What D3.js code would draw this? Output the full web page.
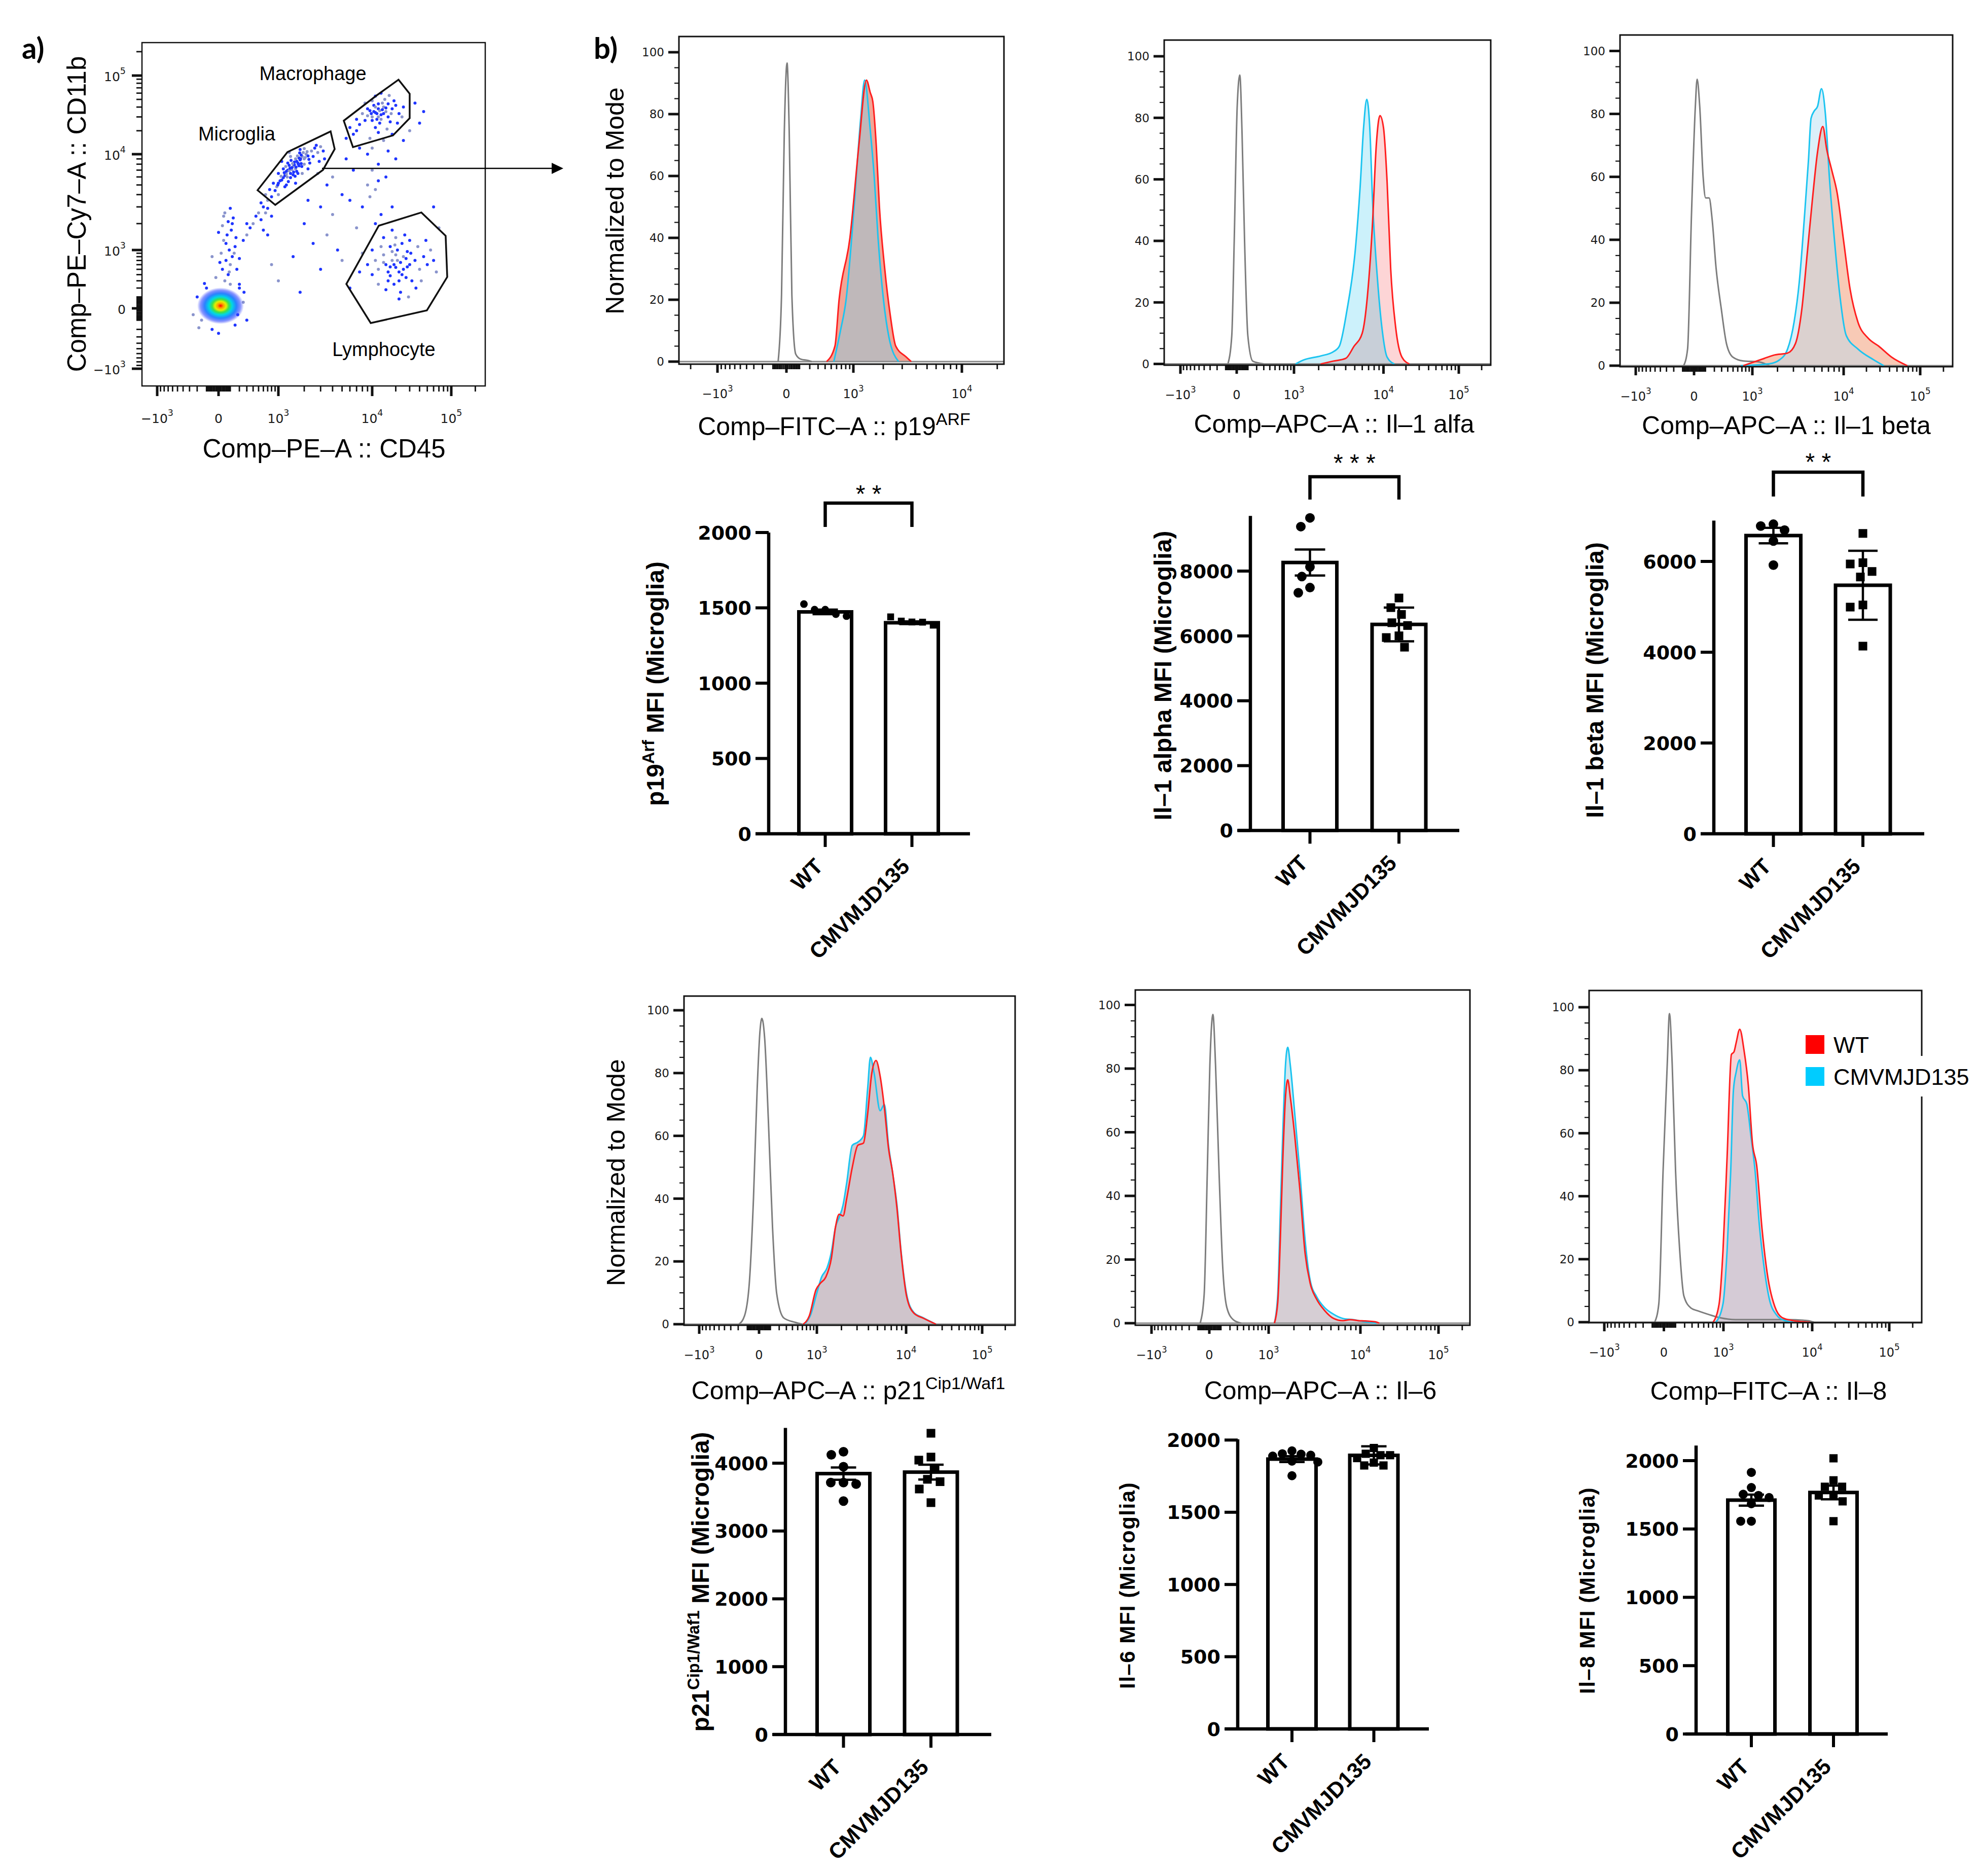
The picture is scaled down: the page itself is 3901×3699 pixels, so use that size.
<!DOCTYPE html>
<html>
<head>
<meta charset="utf-8">
<script src="https://cdn.jsdelivr.net/npm/d3@7/dist/d3.min.js"></script>
<style>
  html,body{margin:0;padding:0;background:#fff;}
  svg{display:block;}
</style>
</head>
<body>
<svg id="fig" width="3901" height="3699"></svg>
<script>
// ======================= DATA =======================
const groups = ["WT", "CMVMJD135"];
const flowTickValues = [-1000, 0, 1000, 10000, 100000];
const flowTickLabels = [["−10","3"], ["0",""], ["10","3"], ["10","4"], ["10","5"]];
const pctTickValues = [0, 20, 40, 60, 80, 100];
const legendLabels = ["WT", "CMVMJD135"];

// ---- panel a : events [CD45, CD11b] ----
const blobCenter = [15, 20];
const blobEvents = [[-150,-100],[150,-150],[-200,100],[250,50],[-100,200],[200,200],[-250,-50],[300,-100],[0,-250],[100,250],[-50,-200],[180,-50],[-180,-180],[260,150],[-120,260]];
const streakEvents = [[50,300],[80,400],[30,500],[100,600],[60,700],[120,800],[20,900],[90,1000],[150,1100],[40,1300],[70,1500],[110,1700],[30,1900],[80,2100],[130,2300],[50,2600],[100,2900],[60,1200],[140,900],[10,650],[170,500],[-20,350],[200,750],[0,1600],[90,450],[160,1400],[120,2000],[40,2400],[250,1300],[300,2000],[-50,800],[200,250]];
const microgliaEvents = [[1300,7000],[1500,7600],[1700,8200],[1400,6500],[1600,7200],[1800,8800],[1200,6200],[1900,9500],[1350,7800],[1650,6800],[2000,9000],[1100,5600],[1550,8400],[1450,7100],[1750,7700],[1250,6800],[2100,10000],[1000,5200],[1850,8100],[1600,9000],[1400,5900],[2200,9600],[950,4800],[1700,6500],[1300,8200],[2400,11000],[900,4400],[1150,7200],[2000,8000],[1500,6300],[800,3800],[700,3500],[600,3000],[750,4500],[1000,4000],[1200,4800],[2600,12000],[2800,10500],[2300,8200],[2500,9500],[3000,12500],[3200,11000],[1800,11500],[1400,9500],[1100,8500],[850,5200],[650,4000],[550,3300],[2700,13000],[2000,11800],[3300,9000],[1600,5200],[1900,6500],[2200,7200],[1000,6500],[1350,10500],[2900,8500],[700,2900],[500,2600],[1250,5000],[450,2400],[400,2000],[350,1800],[550,2200],[300,1500],[600,1700],[800,2400],[650,2600],
  [1450,7400],[1550,7900],[1350,6900],[1650,8500],[1750,9200],[1250,6400],[1850,9800],[1150,5900],[1950,10500],[1050,5500],[1620,7500],[1480,8100],[1380,7300],[1720,8000],[1280,6000],[1820,9000],[1180,6600],[2050,9300],[1520,6700],[1420,8700],[1680,9600],[1580,6100],[1320,5400],[2150,10800],[980,5000],[1880,7600],[1080,6100],[2250,8900],[1780,10400],[1230,7600]];
const macrophageEvents = [[11000,34000],[12000,38000],[10000,30000],[13000,32000],[9500,36000],[14000,40000],[11500,28000],[8500,27000],[15000,35000],[10500,42000],[12500,25000],[9000,31000],[16000,30000],[7500,24000],[13500,45000],[11000,22000],[18000,38000],[8000,33000],[20000,42000],[7000,20000],[14500,50000],[17000,26000],[6500,18000],[10000,48000],[22000,33000],[12000,19000],[9500,16000],[19000,48000],[6000,22000],[15500,21000],[25000,40000],[11000,55000],[8500,45000],[13000,60000],[21000,25000],[16500,56000],[7000,28000],[5500,16000],[24000,30000],[18000,18000],
  [11500,33000],[12500,36000],[10500,35000],[13500,37000],[12000,30000],[9800,33000],[14000,33000],[11000,40000],[15000,39000],[10000,27000],[13000,28000],[16000,44000],[9000,38000],[17500,33000],[12000,44000]];
const lymphocyteEvents = [[20000,540],[18000,700],[22000,450],[15000,600],[25000,800],[17000,380],[30000,600],[12000,500],[21000,1000],[27000,350],[14000,850],[35000,700],[19000,250],[11000,700],[24000,1200],[16000,300],[40000,500],[10000,400],[28000,950],[13000,1100],[45000,800],[9000,600],[20000,1400],[32000,300],[23000,150],[8000,900],[50000,600],[15000,180],[38000,1100],[26000,1500],[18000,1700],[12000,250],[60000,700],[7500,450],[42000,300],[30000,1300],[14000,1400],[55000,1000],[22000,80],[10000,1000],[65000,450],[17000,1100],[36000,200],[29000,100],[48000,1300],
  [19000,600],[21000,700],[17000,550],[23000,650],[20000,850],[16000,450],[25000,500],[18000,950],[22000,300],[27000,750],[14000,650],[31000,900],[24000,400],[19500,1150],[28000,550]];
const scatterEvents = [[3000,3000],[4000,2500],[5000,4000],[6000,3500],[3500,1500],[2500,1200],[8000,3000],[7000,1800],[2000,2000],[4500,1000],[9000,5000],[12000,8000],[15000,6000],[10000,12000],[20000,9000],[25000,15000],[30000,20000],[40000,25000],[1500,800],[1000,300],[700,1500],[3000,500],[5000,700],[6000,200],[2200,3500],[11000,4500],[18000,3000],[13000,2500],[800,600],[1800,150],[9000,10000],[14000,15000],[45000,35000],[35000,45000],[4000,6000],[5500,9000],[3500,5000],[2800,6500],[6500,7000],[7500,12000],[10000,7000],[12000,5500],[16000,11000],[9500,3800],[11000,2000],[60000,3000],[70000,1800]];
const microgliaGate = [[481,4434],[1288,10627],[3817,19630],[4203,11634],[3181,7039],[905,3145]];
const macrophageGate = [[5206,26850],[11440,56250],[21680,88800],[30000,58850],[30000,28900],[18433,17433],[6441,12339]];
const lymphocyteGate = [[12160,1899],[42120,2625],[85000,1466],[89000,361],[49450,-15],[9675,-129],[5524,253]];

// ---- histograms [intensity, % of max] ----
const p19Gray = [[-58,0],[-33,21.5],[-14,74],[4,96.5],[19,74],[38,21.5],[68,2.4],[110,0.8],[191,0.3],[221,0]];
const p19WT   = [[423,0],[568,5],[651,20],[906,40],[1145,70],[1368,91],[1493,87],[1585,84],[1711,70],[1837,50],[2065,30],[2328,15],[2618,5],[3260,1.5],[3622,0]];
const p19CMV  = [[547,0],[680,10],[808,20],[1018,50],[1190,78],[1312,91],[1493,75],[1633,60],[1782,40],[2009,20],[2259,8],[2780,0]];

const il1aGray = [[-77,0],[-41,9.2],[-20,40],[4,83.8],[25,93.9],[44,75],[67,40],[99,9.2],[153,0.9],[300,0]];
const il1aWT   = [[2110,0],[2900,0.9],[4000,1.8],[4900,5.7],[6000,10],[6800,22],[7700,46],[8400,70.6],[9200,80.7],[10000,76.8],[11200,59],[12500,31],[14600,11.8],[17700,2.2],[22200,0]];
const il1aCMV  = [[1050,0],[1330,1.3],[2110,2.6],[2900,3.9],[3400,5.7],[4100,17],[5100,38],[5700,57.5],[6200,76.8],[6700,86],[7200,76.8],[7700,53],[8700,26.8],[9700,11],[11200,2.2],[14000,0]];

const il1bGray = [[-89,0],[-53,5.3],[-20,48],[10,82.4],[24,91],[46,82.4],[77,60],[102,53.3],[138,53.3],[173,46.4],[222,31],[294,18.2],[378,7],[497,2.7],[734,1.5],[1200,1.2],[1610,0]];
const il1bWT   = [[734,0],[1400,2.3],[1850,3.4],[2590,4],[3150,7],[3700,18.2],[4203,35.3],[4760,52.4],[5400,67.9],[6120,76],[6720,68.7],[7600,61.9],[8580,55],[10000,39.6],[12200,24.2],[15430,13.9],[21130,8.7],[28900,6.2],[42600,2.7],[68000,0]];
const il1bCMV  = [[670,0],[1610,0.6],[2119,1.9],[2590,5.3],[3050,13.9],[3470,26.7],[3950,48],[4340,65.3],[4620,78.6],[4980,80.9],[5400,82.4],[5930,88],[6514,79.9],[7150,60],[8081,39.6],[9140,22.5],[10820,9.6],[15430,5.3],[24730,1.9],[33700,0]];

const p21Gray = [[-191,0],[-128,2.7],[-79,14],[-44,40],[-15,74],[6.5,93],[22,97.4],[46,91],[80,65],[122,31],[170,9.6],[261,2],[449,0.6],[594,0]];
const p21WT   = [[620,0],[775,2.7],[973,11],[1105,13],[1299,15],[1520,21],[1705,31],[1881,35],[2089,34.5],[2297,40],[2657,50],[3065,57],[3531,57.7],[3921,67],[4351,80],[4826,84],[5342,79],[5921,69],[6555,56],[7256,48],[8031,37],[8880,22.5],[10176,8.8],[12612,3.6],[17010,1.9],[24900,0]];
const p21CMV  = [[650,0],[800,2.7],[1000,10],[1150,15],[1350,18],[1520,23],[1705,31],[1881,34],[2089,38],[2297,45],[2657,57],[3065,58],[3531,60],[3921,75],[4203,85],[4600,80],[5342,68],[5921,70],[6555,57],[7256,48],[8031,38],[8880,23],[10176,9.5],[12612,3.8],[17010,2],[24900,0]];

const il6Gray = [[-78,0],[-42,9],[-16,47],[4,81],[28,97],[50,81],[82,47],[118,17.6],[163,4.9],[242,1.1],[360,0]];
const il6WT   = [[1180,0],[1297,6.6],[1390,26],[1490,51.5],[1600,71],[1700,76.5],[1820,71],[2040,59],[2330,42],[2660,21.9],[3020,12.5],[3540,7.5],[4290,4],[5330,1.5],[6620,0.8],[7900,1.1],[9500,0.8],[11500,0.7],[16500,0.3],[17500,0]];
const il6CMV  = [[1180,0],[1297,9],[1390,34.6],[1490,60],[1600,81],[1700,86.7],[1820,81],[2040,66],[2330,47.3],[2660,26],[3020,13.4],[3540,8.3],[4290,4.9],[5330,2.8],[6620,1.5],[8450,1.1],[11000,0.5],[16000,0]];

const il8Gray = [[-76,0],[-40,5.8],[-6,48],[26,82],[44,98],[68,82],[100,48],[143,22.7],[191,8.3],[284,4.5],[392,3.6],[614,2.4],[897,1.4],[1420,0.8],[3120,0.8],[5480,0.8],[8980,0.5],[10500,0]];
const il8WT   = [[708,0],[868,5.8],[985,22.7],[1115,52.4],[1265,85],[1360,85.8],[1450,88.8],[1600,93],[1800,86.3],[2020,75.3],[2260,56.6],[2520,49.8],[2900,29.5],[3361,14.2],[4010,4.9],[4780,1.5],[6310,0.5],[9480,0]];
const il8CMV  = [[780,0],[985,5.8],[1115,22.7],[1240,48],[1340,73.6],[1450,79.5],[1600,83.3],[1730,71.9],[1940,69.3],[2170,59],[2420,48],[2700,31],[3020,18.5],[3480,7.5],[4160,2.4],[5130,0.5],[6310,0]];

// ---- bar charts (MFI, microglia) ----
const p19WTvals  = [1525, 1488, 1488, 1458, 1445];
const p19CMVvals = [1440, 1412, 1406, 1405, 1385];
const p19Mean = [1473, 1401];
const p19Sem  = [15, 9];

const il1aWTvals  = [9640, 9370, 8130, 7830, 7490, 7330];
const il1aCMVvals = [7170, 6873, 6662, 6407, 6321, 6003, 5950, 5653];
const il1aMean = [8264, 6355];
const il1aSem  = [400, 520];

const il1bWTvals  = [6820, 6780, 6690, 6450, 5920];
const il1bCMVvals = [6617, 5972, 5944, 5779, 5657, 5041, 4994, 4134];
const il1bMean = [6570, 5475];
const il1bSem  = [170, 760];

const p21WTvals  = [4168, 4124, 3948, 3714, 3714, 3692, 3441];
const p21CMVvals = [4441, 4090, 4045, 3913, 3762, 3727, 3619, 3418];
const p21Mean = [3846, 3868];
const p21Sem  = [90, 110];

const il6WTvals  = [1925, 1905, 1902, 1895, 1889, 1854, 1848, 1753];
const il6CMVvals = [1945, 1905, 1895, 1895, 1875, 1844, 1824, 1824];
const il6Mean = [1868, 1894];
const il6Sem  = [20, 63];

const il8WTvals  = [1914, 1803, 1754, 1745, 1730, 1685, 1557, 1557];
const il8CMVvals = [2017, 1856, 1809, 1809, 1745, 1745, 1702, 1557];
const il8Mean = [1711, 1767];
const il8Sem  = [40, 50];

// ======================= DRAWING =======================
const svg = d3.select("#fig");
const defs = svg.append("defs");
const SANS = "'Liberation Sans', Arial, Helvetica, sans-serif";
const DEJA = "'DejaVu Sans', Verdana, sans-serif";
const RED = "#ff1f1f", BLUE = "#1cc4f0", GRAY = "#7d7d7d", INK = "#111";

const minorFlowTicks = [].concat(
  d3.range(-9000, -1000, 1000), d3.range(-900, 0, 100), d3.range(-90, 0, 10),
  d3.range(10, 100, 10), d3.range(100, 1000, 100), d3.range(2000, 10000, 1000),
  d3.range(20000, 100000, 10000), d3.range(200000, 400000, 100000));

function rich(sel, parts, size) {
  let prevSup = false;
  parts.forEach(p => {
    const t = sel.append("tspan").text(p.t);
    if (p.sup) { t.attr("font-size", size * 0.68).attr("dy", -size * 0.4); prevSup = true; }
    else { if (prevSup) t.attr("dy", size * 0.4); prevSup = false; }
  });
}

function flowLabel(g, x, y, lab, size, anchor) {
  const t = g.append("text").attr("x", x).attr("y", y).attr("text-anchor", anchor)
    .attr("font-family", DEJA).attr("font-size", size).attr("fill", "#1a1a1a");
  t.append("tspan").text(lab[0]);
  if (lab[1]) t.append("tspan").attr("font-size", size * 0.7).attr("dy", -size * 0.55).text(lab[1]);
  return t;
}

function flowXTicks(g, x, yb, x0, x1, majLen, minLen) {
  minorFlowTicks.forEach(v => {
    const px = x(v); if (px < x0 + 2 || px > x1 - 2) return;
    g.append("line").attr("x1", px).attr("x2", px).attr("y1", yb).attr("y2", yb + minLen)
      .attr("stroke", INK).attr("stroke-width", 2.8);
  });
  flowTickValues.forEach(v => {
    const px = x(v); if (px < x0 || px > x1) return;
    g.append("line").attr("x1", px).attr("x2", px).attr("y1", yb).attr("y2", yb + majLen)
      .attr("stroke", INK).attr("stroke-width", 5);
  });
}

// ---------- panel a ----------
function drawPanelA() {
  const F = [280, 84, 957, 761];
  const x = d3.scaleSymlog().constant(300).domain(flowTickValues).range([310, 431, 549, 734, 890]);
  const y = d3.scaleSymlog().constant(300).domain(flowTickValues).range([727, 608, 493, 304, 149]);
  const g = svg.append("g");
  defs.append("clipPath").attr("id", "clipA").append("rect")
    .attr("x", F[0]).attr("y", F[1]).attr("width", F[2] - F[0]).attr("height", F[3] - F[1]);
  const grad = defs.append("radialGradient").attr("id", "blobGrad");
  [[0, "#ff0000", 1], [0.12, "#ff9a00", 1], [0.24, "#e6ef00", 1], [0.36, "#3fe04a", 1],
   [0.5, "#00d6e6", 1], [0.68, "#1e7cff", 0.95], [0.86, "#2a40ff", 0.55], [1, "#3040ff", 0]]
    .forEach(s => grad.append("stop").attr("offset", s[0]).attr("stop-color", s[1]).attr("stop-opacity", s[2]));
  const p = g.append("g").attr("clip-path", "url(#clipA)");
  const allEv = [].concat(blobEvents, streakEvents, microgliaEvents, macrophageEvents, lymphocyteEvents, scatterEvents);
  p.selectAll("circle.ev").data(allEv).enter().append("circle").attr("class", "ev")
    .attr("cx", d => x(d[0])).attr("cy", d => y(d[1])).attr("r", 3)
    .attr("fill", (d, i) => i % 3 === 0 ? "#8a94cc" : "#1f35ff");
  p.append("ellipse").attr("cx", x(blobCenter[0])).attr("cy", y(blobCenter[1]))
    .attr("rx", 46).attr("ry", 36).attr("fill", "url(#blobGrad)");
  const gl = d3.line().x(d => x(d[0])).y(d => y(d[1])).curve(d3.curveLinearClosed);
  [microgliaGate, macrophageGate, lymphocyteGate].forEach(gt =>
    p.append("path").attr("d", gl(gt)).attr("fill", "none").attr("stroke", "#111").attr("stroke-width", 3.5));
  g.append("rect").attr("x", F[0]).attr("y", F[1]).attr("width", F[2] - F[0]).attr("height", F[3] - F[1])
    .attr("fill", "none").attr("stroke", INK).attr("stroke-width", 2.5);
  minorFlowTicks.forEach(v => {
    const py = y(v); if (py < F[1] + 2 || py > F[3] - 2) return;
    g.append("line").attr("x1", F[0] - 11).attr("x2", F[0]).attr("y1", py).attr("y2", py).attr("stroke", INK).attr("stroke-width", 2.8);
  });
  flowTickValues.forEach((v, i) => {
    const py = y(v);
    g.append("line").attr("x1", F[0] - 20).attr("x2", F[0]).attr("y1", py).attr("y2", py).attr("stroke", INK).attr("stroke-width", 5);
    flowLabel(g, 248, py + 11, flowTickLabels[i], 25, "end");
  });
  flowXTicks(g, x, F[3], F[0], F[2], 20, 11);
  flowTickValues.forEach((v, i) => flowLabel(g, x(v), 834, flowTickLabels[i], 25, "middle"));
  [["Macrophage", 617, 158], ["Microglia", 467, 277], ["Lymphocyte", 757, 702]].forEach(d =>
    g.append("text").attr("x", d[1]).attr("y", d[2]).attr("text-anchor", "middle")
      .attr("font-family", SANS).attr("font-size", 38).attr("fill", "#000").text(d[0]));
  g.append("text").attr("x", 639).attr("y", 902).attr("text-anchor", "middle")
    .attr("font-family", SANS).attr("font-size", 51).text("Comp–PE–A :: CD45");
  g.append("text").attr("transform", "translate(151,422) rotate(-90)").attr("dy", "0.35em").attr("text-anchor", "middle")
    .attr("font-family", SANS).attr("font-size", 51).text("Comp–PE–Cy7–A :: CD11b");
  g.append("line").attr("x1", 635).attr("x2", 1092).attr("y1", 332).attr("y2", 332).attr("stroke", "#000").attr("stroke-width", 2.5);
  g.append("path").attr("d", "M1111,332 L1088,321 L1088,343 Z").attr("fill", "#000");
}

// ---------- histograms ----------
function drawHist(c) {
  const [fx0, fy0, fx1, fy1] = c.frame;
  const g = svg.append("g");
  const x = d3.scaleSymlog().constant(300).domain(flowTickValues).range(c.xpx);
  const y = d3.scaleLinear().domain([0, 100]).range(c.ypx);
  const fid = c.id + "-clip", bid = c.id + "-cmv";
  defs.append("clipPath").attr("id", fid).append("rect")
    .attr("x", fx0).attr("y", fy0).attr("width", fx1 - fx0).attr("height", fy1 - fy0);
  const area = d3.area().x(d => x(d[0])).y0(y(0)).y1(d => y(d[1])).curve(d3.curveMonotoneX);
  const line = d3.line().x(d => x(d[0])).y(d => y(d[1])).curve(d3.curveMonotoneX);
  defs.append("clipPath").attr("id", bid).append("path").attr("d", area(c.cmv));
  const p = g.append("g").attr("clip-path", `url(#${fid})`);
  p.append("path").attr("d", area(c.wt)).attr("fill", c.fills.red);
  p.append("path").attr("d", area(c.cmv)).attr("fill", c.fills.blue);
  p.append("path").attr("d", area(c.wt)).attr("fill", c.fills.both).attr("clip-path", `url(#${bid})`);
  p.append("line").attr("x1", fx0).attr("x2", fx1).attr("y1", y(0)).attr("y2", y(0)).attr("stroke", "#8a8a8a").attr("stroke-width", 3);
  p.append("path").attr("d", line(c.gray)).attr("fill", "none").attr("stroke", GRAY).attr("stroke-width", 3);
  p.append("path").attr("d", line(c.cmv)).attr("fill", "none").attr("stroke", BLUE).attr("stroke-width", 3);
  p.append("path").attr("d", line(c.wt)).attr("fill", "none").attr("stroke", RED).attr("stroke-width", 3);
  g.append("rect").attr("x", fx0).attr("y", fy0).attr("width", fx1 - fx0).attr("height", fy1 - fy0)
    .attr("fill", "none").attr("stroke", INK).attr("stroke-width", 3);
  d3.range(0, 101, 5).forEach(v => {
    const major = v % 20 === 0, py = y(v);
    g.append("line").attr("x1", fx0 - (major ? 21 : 9)).attr("x2", fx0).attr("y1", py).attr("y2", py)
      .attr("stroke", INK).attr("stroke-width", major ? 5 : 2.2);
  });
  pctTickValues.forEach(v => g.append("text").attr("x", fx0 - 29).attr("y", y(v)).attr("dy", "0.36em")
    .attr("text-anchor", "end").attr("font-family", DEJA).attr("font-size", 23).attr("fill", "#1a1a1a").text(v));
  flowXTicks(g, x, fy1, fx0, fx1, 17, 10);
  flowTickValues.forEach((v, i) => { const px = x(v); if (px < fx0 || px > fx1) return;
    flowLabel(g, px, fy1 + 67, flowTickLabels[i], 24, "middle"); });
  const tt = g.append("text").attr("x", c.title.x).attr("y", c.title.y).attr("text-anchor", "middle")
    .attr("font-family", SANS).attr("font-size", 50).attr("fill", "#000");
  rich(tt, c.title.parts, 50);
  if (c.yTitle) g.append("text").attr("transform", `translate(${c.yTitle.x},${c.yTitle.y}) rotate(-90)`)
    .attr("dy", "0.35em").attr("text-anchor", "middle").attr("font-family", SANS).attr("font-size", 50).text("Normalized to Mode");
  return g;
}

// ---------- bar charts ----------
function swarm(vals, y, r, spread) {
  const placed = [], offs = new Array(vals.length).fill(0);
  const minD = 2 * r * spread;
  d3.range(vals.length).sort((a, b) => vals[b] - vals[a]).forEach(i => {
    const py = y(vals[i]); let chosen = 0;
    for (let k = 0; k < 400; k++) {
      const cand = (k % 2 ? -1 : 1) * Math.ceil(k / 2);
      if (placed.every(q => (q.x - cand) ** 2 + (q.y - py) ** 2 >= minD * minD)) { chosen = cand; break; }
    }
    placed.push({ x: chosen, y: py }); offs[i] = chosen;
  });
  return offs;
}
function rowLayout(vals, step) {
  return vals.map((v, j) => (j - (vals.length - 1) / 2) * step);
}

function drawBars(c) {
  const g = svg.append("g");
  const y = d3.scaleLinear().domain([0, c.refVal]).range([c.y0, c.refPx]);
  const x = d3.scalePoint().domain(groups).range(c.centers);
  const LW = 6.5;
  g.append("line").attr("x1", c.axisX).attr("x2", c.axisX).attr("y1", c.y0).attr("y2", y(c.yMax))
    .attr("stroke", "#000").attr("stroke-width", LW);
  c.ticks.forEach(t => {
    g.append("line").attr("x1", c.axisX - 26).attr("x2", c.axisX).attr("y1", y(t)).attr("y2", y(t))
      .attr("stroke", "#000").attr("stroke-width", 6);
    g.append("text").attr("x", c.axisX - 34).attr("y", y(t)).attr("dy", "0.36em").attr("text-anchor", "end")
      .attr("font-family", DEJA).attr("font-weight", "bold").attr("font-size", 38).attr("fill", "#000").text(t);
  });
  const series = [c.wt, c.cmv];
  groups.forEach((name, i) => {
    const cx = x(name), BW = c.barW - 7;
    g.append("rect").attr("x", cx - BW / 2).attr("y", y(c.mean[i])).attr("width", BW)
      .attr("height", c.y0 - y(c.mean[i])).attr("fill", "#fff").attr("stroke", "#000").attr("stroke-width", 7);
  });
  g.append("line").attr("x1", c.xAxis[0]).attr("x2", c.xAxis[1]).attr("y1", c.y0).attr("y2", c.y0)
    .attr("stroke", "#000").attr("stroke-width", LW);
  groups.forEach((name, i) => {
    const cx = x(name);
    const offs = c.rowStep ? rowLayout(series[i], c.rowStep) : swarm(series[i], y, c.r, c.spread);
    series[i].forEach((v, j) => {
      if (i === 0) g.append("circle").attr("cx", cx + offs[j]).attr("cy", y(v)).attr("r", c.r).attr("fill", "#000");
      else { const s = c.r * 1.8; g.append("rect").attr("x", cx + offs[j] - s / 2).attr("y", y(v) - s / 2)
        .attr("width", s).attr("height", s).attr("fill", "#000"); }
    });
    const yt = y(c.mean[i] + c.sem[i]), yb = y(c.mean[i] - c.sem[i]);
    g.append("line").attr("x1", cx).attr("x2", cx).attr("y1", yt).attr("y2", yb).attr("stroke", "#000").attr("stroke-width", 4.5);
    [yt, yb].forEach(yy => g.append("line").attr("x1", cx - c.cap / 2).attr("x2", cx + c.cap / 2)
      .attr("y1", yy).attr("y2", yy).attr("stroke", "#000").attr("stroke-width", 4.5));
    g.append("line").attr("x1", cx).attr("x2", cx).attr("y1", c.y0).attr("y2", c.y0 + 26)
      .attr("stroke", "#000").attr("stroke-width", 6);
    g.append("text").attr("transform", `translate(${cx - 2},${c.y0 + 67}) rotate(-45)`).attr("text-anchor", "end")
      .attr("font-family", SANS).attr("font-weight", "bold").attr("font-size", 43).attr("fill", "#000").text(name);
  });
  const tt = g.append("text").attr("transform", `translate(${c.title.x},${c.title.y}) rotate(-90)`)
    .attr("dy", "0.35em").attr("text-anchor", "middle").attr("font-family", SANS).attr("font-weight", "bold")
    .attr("font-size", c.title.size).attr("letter-spacing", c.title.ls || 0).attr("fill", "#000");
  rich(tt, c.title.parts, c.title.size);
  if (c.sig) {
    const x1 = x(groups[0]), x2 = x(groups[1]);
    g.append("path").attr("d", `M${x1},${c.sig.bottom} V${c.sig.top} H${x2} V${c.sig.bottom}`)
      .attr("fill", "none").attr("stroke", "#000").attr("stroke-width", 6.5);
    g.append("text").attr("x", (x1 + x2) / 2).attr("y", c.sig.textY).attr("text-anchor", "middle")
      .attr("font-family", SANS).attr("font-size", 48).attr("fill", "#000").text(c.sig.text);
  }
}

// ---------- layout ----------
drawPanelA();
svg.append("text").attr("x", 43).attr("y", 116).attr("font-family", "Lato, 'Open Sans', sans-serif")
  .attr("font-weight", "bold").attr("font-size", 58).text("a)");
svg.append("text").attr("x", 1171).attr("y", 116).attr("font-family", "Lato, 'Open Sans', sans-serif")
  .attr("font-weight", "bold").attr("font-size", 58).text("b)");

drawHist({ id: "h1", frame: [1339, 72, 1980, 718], xpx: [1415, 1551, 1683, 1897, 2131], ypx: [713, 103],
  gray: p19Gray, wt: p19WT, cmv: p19CMV, fills: { red: "#f2a595", blue: "#d2e6ee", both: "#bfb8ba" },
  title: { x: 1645, y: 858, parts: [{ t: "Comp–FITC–A :: p19" }, { t: "ARF", sup: true }] }, yTitle: { x: 1212, y: 396 } });
drawHist({ id: "h2", frame: [2296, 79, 2940, 720], xpx: [2328, 2439, 2552, 2728.5, 2877], ypx: [717.6, 111],
  gray: il1aGray, wt: il1aWT, cmv: il1aCMV, fills: { red: "#fdd5d6", blue: "#ccf1fb", both: "#c8cfd8" },
  title: { x: 2631, y: 853, parts: [{ t: "Comp–APC–A :: Il–1 alfa" }] } });
drawHist({ id: "h3", frame: [3195, 69, 3851, 723], xpx: [3226, 3341, 3456, 3636, 3787], ypx: [721, 100.5],
  gray: il1bGray, wt: il1bWT, cmv: il1bCMV, fills: { red: "#f8cab6", blue: "#dbeff9", both: "#dbd1cf" },
  title: { x: 3523, y: 856, parts: [{ t: "Comp–APC–A :: Il–1 beta" }] } });
drawHist({ id: "h4", frame: [1349, 1964, 2002, 2613], xpx: [1379, 1497, 1611, 1787, 1937], ypx: [2611, 1992],
  gray: p21Gray, wt: p21WT, cmv: p21CMV, fills: { red: "#d3c4cb", blue: "#cfc8d0", both: "#cfc4cb" },
  title: { x: 1673, y: 2759, parts: [{ t: "Comp–APC–A :: p21" }, { t: "Cip1/Waf1", sup: true }] }, yTitle: { x: 1214, y: 2312 } });
drawHist({ id: "h5", frame: [2239, 1952, 2899, 2613], xpx: [2271, 2385, 2502, 2683, 2837], ypx: [2609, 1981.5],
  gray: il6Gray, wt: il6WT, cmv: il6CMV, fills: { red: "#e9c9cf", blue: "#cfe9f2", both: "#d6ced4" },
  title: { x: 2604, y: 2759, parts: [{ t: "Comp–APC–A :: Il–6" }] } });
const h6 = drawHist({ id: "h6", frame: [3134, 1953, 3790, 2608], xpx: [3164, 3281.5, 3399, 3574, 3726], ypx: [2607, 1986],
  gray: il8Gray, wt: il8WT, cmv: il8CMV, fills: { red: "#f8d2d6", blue: "#d5cbd6", both: "#d5cbd6" },
  title: { x: 3488, y: 2760, parts: [{ t: "Comp–FITC–A :: Il–8" }] } });

h6.append("rect").attr("x", 3783).attr("y", 2082).attr("width", 14).attr("height", 80).attr("fill", "#fff");
legendLabels.forEach((lab, i) => {
  h6.append("rect").attr("x", 3561).attr("y", 2041 + i * 63).attr("width", 37).attr("height", 37).attr("fill", i ? "#00ccff" : "#ff0000");
  h6.append("text").attr("x", 3616).attr("y", 2076 + i * 63).attr("font-family", SANS).attr("font-size", 45).attr("fill", "#000").text(lab);
});

const T = (t) => [{ t }];
drawBars({ axisX: 1516, y0: 1644, refVal: 2000, refPx: 1050, yMax: 2000, ticks: [0, 500, 1000, 1500, 2000],
  xAxis: [1490, 1913], centers: [1627.5, 1798.5], barW: 111, wt: p19WTvals, cmv: p19CMVvals, mean: p19Mean, sem: p19Sem,
  r: 7.5, rowStep: 21, cap: 50, title: { x: 1292, y: 1348, size: 48, parts: [{ t: "p19" }, { t: "Arf", sup: true }, { t: " MFI (Microglia)" }] },
  sig: { text: "* *", top: 992, bottom: 1039, textY: 990 } });
drawBars({ axisX: 2466, y0: 1637.5, refVal: 8000, refPx: 1126, yMax: 9700, ticks: [0, 2000, 4000, 6000, 8000],
  xAxis: [2441, 2878], centers: [2583.5, 2759], barW: 113, wt: il1aWTvals, cmv: il1aCMVvals, mean: il1aMean, sem: il1aSem,
  r: 9.5, spread: 1.3, cap: 60, title: { x: 2293, y: 1332, size: 48, parts: T("Il–1 alpha MFI (Microglia)") },
  sig: { text: "* * *", top: 940, bottom: 985, textY: 929 } });
drawBars({ axisX: 3380, y0: 1644, refVal: 6000, refPx: 1107, yMax: 6900, ticks: [0, 2000, 4000, 6000],
  xAxis: [3354, 3795], centers: [3497.5, 3674], barW: 115, wt: il1bWTvals, cmv: il1bCMVvals, mean: il1bMean, sem: il1bSem,
  r: 9.5, spread: 1.3, cap: 58, title: { x: 3145, y: 1341, size: 48, parts: T("Il–1 beta MFI (Microglia)") },
  sig: { text: "* *", top: 931, bottom: 979, textY: 927 } });
drawBars({ axisX: 1549, y0: 3420, refVal: 4000, refPx: 2885, yMax: 4520, ticks: [0, 1000, 2000, 3000, 4000],
  xAxis: [1524, 1955], centers: [1663.5, 1836], barW: 111, wt: p21WTvals, cmv: p21CMVvals, mean: p21Mean, sem: p21Sem,
  r: 9.5, spread: 1.3, cap: 50, title: { x: 1381, y: 3119, size: 48, parts: [{ t: "p21" }, { t: "Cip1/Waf1", sup: true }, { t: " MFI (Microglia)" }] } });
drawBars({ axisX: 2441, y0: 3409, refVal: 2000, refPx: 2839.4, yMax: 2005, ticks: [0, 500, 1000, 1500, 2000],
  xAxis: [2416, 2818], centers: [2548, 2709.5], barW: 102, wt: il6WTvals, cmv: il6CMVvals, mean: il6Mean, sem: il6Sem,
  r: 9, spread: 1.05, cap: 50, title: { x: 2223, y: 3126, size: 42, ls: 1.5, parts: T("Il–6 MFI (Microglia)") } });
drawBars({ axisX: 3345, y0: 3419, refVal: 2000, refPx: 2880, yMax: 2110, ticks: [0, 500, 1000, 1500, 2000],
  xAxis: [3324, 3723], centers: [3454, 3616], barW: 100, wt: il8WTvals, cmv: il8CMVvals, mean: il8Mean, sem: il8Sem,
  r: 9, spread: 1.15, cap: 50, title: { x: 3130, y: 3136, size: 42, ls: 1.5, parts: T("Il–8 MFI (Microglia)") } });
</script>
</body>
</html>
